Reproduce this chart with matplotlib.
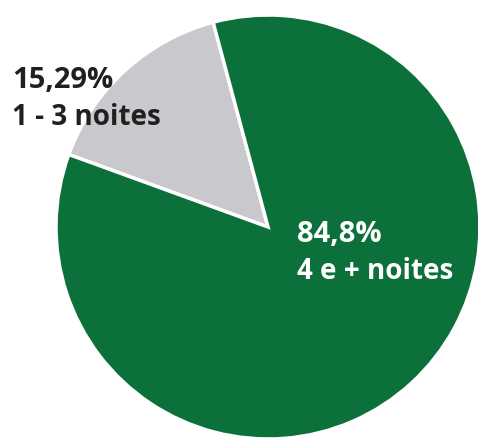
import matplotlib
matplotlib.use('Agg')
import matplotlib.pyplot as plt

# share of stays by number of nights
labels = ['1 - 3 noites', '4 e + noites']
shares = [15.29, 84.8]
share_text = ['15,29%', '84,8%']
colors = ['#c9c8cc', '#0b703a']
text_colors = ['#231f20', '#ffffff']

W, H = 478, 439
fig = plt.figure(figsize=(W / 100, H / 100), dpi=100)
ax = fig.add_axes([0, 0, 1, 1])

ax.pie(shares, colors=colors, startangle=105, counterclock=True,
       center=(268, H - 228), radius=212, frame=True,
       wedgeprops={'edgecolor': 'white', 'linewidth': 2.5})
ax.set_xlim(0, W)
ax.set_ylim(0, H)
ax.set_aspect('equal')
ax.axis('off')

# label positions (left edge, baseline of first line) in pixel coords from top
label_pos = [(12, 88), (297, 242)]
pct_size = [21, 21]
for i in range(len(labels)):
    x, y = label_pos[i]
    ax.text(x, H - y, share_text[i], ha='left', va='baseline',
            fontsize=pct_size[i], fontweight='bold', family='Open Sans',
            color=text_colors[i])
    ax.text(x, H - y - 37, labels[i], ha='left', va='baseline',
            fontsize=20, fontweight='bold', family='Open Sans',
            color=text_colors[i])

fig.savefig('out.png', dpi=100)
